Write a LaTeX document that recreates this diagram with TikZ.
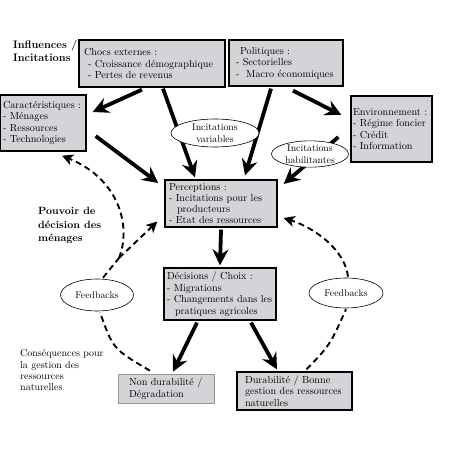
\documentclass[tikz,border=0pt]{standalone}
\usetikzlibrary{arrows.meta,calc,shapes.geometric}
\definecolor{boxgray}{RGB}{211,212,215}
\definecolor{lightborder}{RGB}{150,150,150}
\tikzset{
  box/.style={draw=black, line width=1.3pt, fill=boxgray, rectangle, inner sep=0pt,
    align=left, font=\fontsize{10.2}{11.5}\selectfont},
  lightbox/.style={box, draw=lightborder, line width=0.7pt},
  bubble/.style={draw=black, ellipse, fill=white, line width=0.6pt, inner sep=0pt,
    align=center, font=\fontsize{9.8}{11.8}\selectfont},
  biglabel/.style={anchor=north west, inner sep=0pt, align=left},
  thickarrow/.style={line width=3.8pt, -{Stealth[length=16pt,width=16pt,inset=5.5pt]}},
  dasharrow/.style={line width=1.9pt, dash pattern=on 6pt off 4pt,
    -{Stealth[length=11pt,width=11pt,inset=3pt]}},
  dashline/.style={line width=1.9pt, dash pattern=on 6pt off 4pt}
}
\begin{document}
\begin{tikzpicture}[x=1pt,y=-1pt]
\useasboundingbox (0,0) rectangle (469,460);

% labels
\node[biglabel, font=\bfseries\fontsize{11}{13}\selectfont] (infl) at (13,40.5) {Influences /\\Incitations};
\node[biglabel, font=\bfseries\fontsize{10.5}{13.5}\selectfont] (pouv) at (38,207.5) {Pouvoir de\\d\'ecision des\\m\'enages};
\node[biglabel, font=\fontsize{10}{11.3}\selectfont] (cons) at (20,349.5) {Cons\'equences pour\\la gestion des\\ressources\\naturelles};

% boxes
\node[box, minimum width=146pt, minimum height=47pt, text width=136pt] (chocs) at (152,63.5)
  {Chocs externes~:\\\hspace*{4pt}- Croissance d\'emographique\\\hspace*{4pt}- Pertes de revenus};
\node[box, minimum width=114pt, minimum height=46pt, text width=100pt] (polit) at (286,63)
  {\hspace*{4pt}Politiques~:\\- Sectorielles\\- \ Macro \'economiques};
\node[box, minimum width=86pt, minimum height=56pt, text width=80pt] (carac) at (43,123)
  {Caract\'eristiques~:\\- M\'enages\\- Ressources\\- Technologies};
\node[box, minimum width=81pt, minimum height=66pt, text width=77pt] (env) at (391.5,129)
  {Environnement~:\\- R\'egime foncier\\- Cr\'edit\\- Information};
\node[box, minimum width=112pt, minimum height=47pt, text width=104pt, font=\fontsize{10.2}{10.8}\selectfont] (percep) at (221,203.5)
  {Perceptions~:\\- Incitations pour les\\\hspace*{8pt}producteurs\\- Etat des ressources};
\node[box, minimum width=112pt, minimum height=52pt, text width=106pt] (dec) at (220,294)
  {D\'ecisions / Choix~:\\- Migrations\\- Changements dans les\\\hspace*{8pt}pratiques agricoles};
\node[lightbox, minimum width=96pt, minimum height=29pt, text width=74pt] (nondur) at (166,388.5)
  {Non durabilit\'e~/\\D\'egradation};
\node[box, minimum width=115pt, minimum height=38pt, text width=99pt] (dur) at (294.5,391)
  {Durabilit\'e / Bonne\\gestion des ressources\\naturelles};

% thick arrows
\draw[thickarrow] ($(chocs.south)+(-10,2)$) -- ($(carac.east)+(6,-11)$);
\draw[thickarrow] ($(chocs.south)+(11,1)$) -- ($(percep.north)+(-26,-2)$);
\draw[thickarrow] ($(carac.east)+(9,13)$) -- ($(percep.west)+(-6,-20.5)$);
\draw[thickarrow] ($(polit.south)+(-15,2)$) -- ($(percep.north)+(24,-4)$);
\draw[thickarrow] ($(polit.south)+(7,4)$) -- ($(env.west)+(-9,-14)$);
\draw[thickarrow] ($(env.west)+(-12,8)$) -- ($(percep.east)+(6,-19.5)$);
\draw[thickarrow] ($(percep.south)+(0,2)$) -- ($(dec.north)+(0,-2)$);
\draw[thickarrow] ($(dec.south)+(-23,2)$) -- ($(nondur.north)+(7,-2)$);
\draw[thickarrow] ($(dec.south)+(31,2)$) -- ($(dur.north)+(-17.5,-2)$);

% bubbles
\node[bubble, minimum width=88pt, minimum height=28pt] (incvar) at (215,133) {Incitations\\variables};
\node[bubble, minimum width=77pt, minimum height=26pt] (inchab) at (310,154) {Incitations\\habilitantes};
\node[bubble, minimum width=73pt, minimum height=32pt] (fbl) at (97,295) {Feedbacks};
\node[bubble, minimum width=74pt, minimum height=30pt] (fbr) at (346,293) {Feedbacks};

% dashed feedbacks
\coordinate (branch) at (119,258);
\draw[dashline] ($(nondur.north)+(-16,-3)$) .. controls (113,349) .. ($(fbl.south)+(3,1)$);
\draw[dashline] ($(fbl.north)+(6,-1)$) -- (branch);
\draw[dasharrow] (branch) -- ($(percep.west)+(-7,18)$);
\draw[dasharrow] (branch) .. controls (131,228) and (121,180) .. ($(carac.south)+(19,4)$);
\draw[dashline] ($(dur.north)+(12,-2)$) .. controls (330,345) .. ($(fbr.south)+(0,1)$);
\draw[dasharrow] ($(fbr.north)+(2,-1)$) .. controls (345,250) and (315,228) .. ($(percep.east)+(6,14.5)$);
\end{tikzpicture}
\end{document}
